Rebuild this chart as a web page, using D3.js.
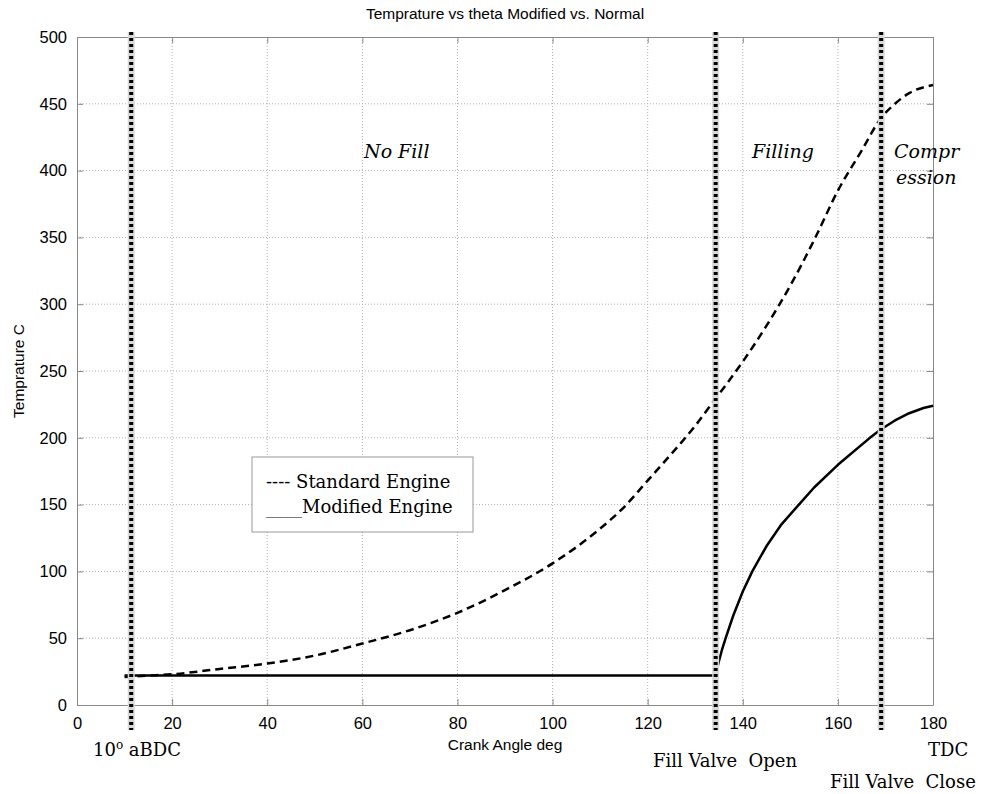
<!DOCTYPE html>
<html>
<head>
<meta charset="utf-8">
<script src="https://cdn.jsdelivr.net/npm/d3@7"></script>
<style>
  body { margin: 0; background: #fff; }
  text { fill: #000; white-space: pre; }
</style>
</head>
<body>
<div class="display"></div>
<script>
const WIDTH = 984;
const HEIGHT = 794;
const MARGIN = { top: 37, right: 51, bottom: 89, left: 77 };

const TITLE = 'Temprature vs theta Modified vs. Normal';
const X_AXIS = 'Crank Angle deg';
const Y_AXIS = 'Temprature C';

const X_TICKS = [0, 20, 40, 60, 80, 100, 120, 140, 160, 180];
const Y_TICKS = [0, 50, 100, 150, 200, 250, 300, 350, 400, 450, 500];

// standard engine (dashed)
const STD_THETA = [10, 15, 20, 30, 40, 50, 60, 70, 80, 90, 100, 110, 115, 120, 125, 130, 134, 140, 145, 150, 155, 160, 165, 169, 172, 175, 180];
const STD_TEMP  = [21, 22, 23, 27, 31, 37, 46, 56, 69, 86, 106, 132, 148, 168, 188, 209, 228, 257, 284, 314, 348, 385, 415, 439, 450, 458, 464];

// modified engine (solid)
const MOD_THETA = [10, 134.3, 134.6, 135, 135.6, 136.4, 138, 140, 142, 145, 148, 151.8, 155, 160, 166.6, 169, 172, 175, 178, 180];
const MOD_TEMP  = [22, 22, 27, 33, 41, 50, 67, 85, 100, 119, 134.6, 150, 162.8, 179.8, 199.6, 206.2, 213, 218.4, 222.3, 224];

// event markers
const MARKERS = [11.4, 134.3, 169.1];

const innerW = WIDTH - MARGIN.left - MARGIN.right;
const innerH = HEIGHT - MARGIN.top - MARGIN.bottom;

const svg = d3.select('.display')
  .append('svg')
  .attr('width', WIDTH)
  .attr('height', HEIGHT);

const g = svg.append('g')
  .attr('transform', `translate(${MARGIN.left}, ${MARGIN.top})`);

const x = d3.scaleLinear().domain([0, 180]).range([0, innerW]);
const y = d3.scaleLinear().domain([0, 500]).range([innerH, 0]);

// grid
g.selectAll('.vgrid')
  .data(X_TICKS.slice(1, -1))
  .enter()
  .append('line')
  .attr('x1', d => x(d)).attr('x2', d => x(d))
  .attr('y1', 0).attr('y2', innerH)
  .attr('stroke', '#b0b0b0')
  .attr('stroke-width', 1)
  .attr('stroke-dasharray', '1,2');

g.selectAll('.hgrid')
  .data(Y_TICKS.slice(1, -1))
  .enter()
  .append('line')
  .attr('x1', 0).attr('x2', innerW)
  .attr('y1', d => y(d)).attr('y2', d => y(d))
  .attr('stroke', '#b0b0b0')
  .attr('stroke-width', 1)
  .attr('stroke-dasharray', '1,2');

// axes (matlab style inner ticks)
const font = '"Liberation Sans", Arial, sans-serif';

const xAxis = g.append('g')
  .attr('transform', `translate(0, ${innerH})`)
  .call(d3.axisBottom(x).tickValues(X_TICKS).tickSizeInner(-6).tickSizeOuter(0).tickPadding(12));
const yAxis = g.append('g')
  .call(d3.axisLeft(y).tickValues(Y_TICKS).tickSizeInner(-6).tickSizeOuter(0).tickPadding(10));
const xTop = g.append('g')
  .call(d3.axisTop(x).tickValues(X_TICKS).tickSizeInner(-6).tickSizeOuter(0).tickFormat(''));
const yRight = g.append('g')
  .attr('transform', `translate(${innerW}, 0)`)
  .call(d3.axisRight(y).tickValues(Y_TICKS).tickSizeInner(-6).tickSizeOuter(0).tickFormat(''));

[xAxis, yAxis, xTop, yRight].forEach(a => {
  a.selectAll('path').attr('stroke', '#888');
  a.selectAll('line').attr('stroke', '#888');
  a.selectAll('text')
    .style('font-family', font)
    .style('font-size', '16.5px')
    .attr('fill', '#111');
});

// curves
const line = d3.line()
  .x(d => x(d[0]))
  .y(d => y(d[1]));

g.append('path')
  .datum(STD_THETA.map((t, i) => [t, STD_TEMP[i]]))
  .attr('d', line.curve(d3.curveMonotoneX))
  .attr('fill', 'none')
  .attr('stroke', '#000')
  .attr('stroke-width', 2.5)
  .attr('stroke-dasharray', '8,5');

g.append('path')
  .datum(MOD_THETA.map((t, i) => [t, MOD_TEMP[i]]))
  .attr('d', line.curve(d3.curveLinear))
  .attr('fill', 'none')
  .attr('stroke', '#000')
  .attr('stroke-width', 2.5)
  .attr('stroke-linejoin', 'round');

// vertical event markers
MARKERS.forEach(m => {
  g.append('line')
    .attr('x1', x(m)).attr('x2', x(m))
    .attr('y1', -5).attr('y2', innerH + 25)
    .attr('stroke', '#d8d8d8')
    .attr('stroke-width', 7);
  g.append('line')
    .attr('x1', x(m)).attr('x2', x(m))
    .attr('y1', -5).attr('y2', innerH + 25)
    .attr('stroke', '#000')
    .attr('stroke-width', 4)
    .attr('stroke-dasharray', '3,3');
});

// legend
const serif = '"DejaVu Serif", Georgia, serif';
const legend = g.append('g')
  .attr('transform', `translate(${252 - MARGIN.left}, ${457 - MARGIN.top})`);
legend.append('rect')
  .attr('width', 221)
  .attr('height', 75)
  .attr('fill', '#fff')
  .attr('stroke', '#999')
  .attr('stroke-width', 1);
legend.append('text')
  .attr('x', 14).attr('y', 31)
  .style('font-family', serif).style('font-size', '18px')
  .text('---- Standard Engine');
legend.append('text')
  .attr('x', 14).attr('y', 56)
  .style('font-family', serif).style('font-size', '18px')
  .text('____Modified Engine');

// title and axis labels
svg.append('text')
  .attr('x', 505).attr('y', 19)
  .attr('text-anchor', 'middle')
  .style('font-family', font).style('font-size', '15.5px')
  .text(TITLE);

svg.append('text')
  .attr('x', 505).attr('y', 750)
  .attr('text-anchor', 'middle')
  .style('font-family', font).style('font-size', '15.5px')
  .text(X_AXIS);

svg.append('text')
  .attr('transform', 'translate(24, 371) rotate(-90)')
  .attr('text-anchor', 'middle')
  .style('font-family', font).style('font-size', '15.5px')
  .text(Y_AXIS);

// region annotations
const italic = (t, px, py) => svg.append('text')
  .attr('x', px).attr('y', py)
  .style('font-family', serif).style('font-style', 'italic').style('font-size', '19px')
  .text(t);
italic('No Fill', 364, 158);
italic('Filling', 752, 158);
italic('Compr', 894, 158);
italic('ession', 896, 184);

// event labels below axis
const plain = (t, px, py) => svg.append('text')
  .attr('x', px).attr('y', py)
  .style('font-family', serif).style('font-size', '18px')
  .text(t);
const aBDC = plain('10', 93, 756);
aBDC.append('tspan').attr('dy', -7).style('font-size', '12px').text('o');
aBDC.append('tspan').attr('dy', 7).text(' aBDC');
plain('Fill Valve  Open', 653, 767);
plain('TDC', 928, 756);
plain('Fill Valve  Close', 830, 788);
</script>
</body>
</html>
